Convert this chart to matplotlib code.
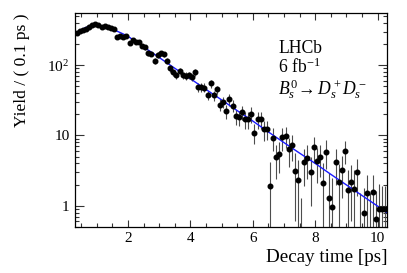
import numpy as np
import matplotlib.pyplot as plt
from matplotlib.ticker import MultipleLocator, LogLocator, FixedLocator, FixedFormatter, NullFormatter

plt.rcParams['font.family'] = 'Liberation Serif'
plt.rcParams['mathtext.fontset'] = 'custom'
plt.rcParams['mathtext.rm'] = 'Liberation Serif'
plt.rcParams['mathtext.it'] = 'Liberation Serif:italic'

# bin centres, 0.1 ps wide bins
t = np.round(np.arange(0.35, 10.3, 0.1), 2)

# yield per bin
yld = [285, 305, 318, 322, 345, 368, 378, 370, 345, 357,
       350, 333, 322, 248, 258, 252, 258, 207, 231, 214,
       214, 186, 178, 147, 145, 115, 139, 147, 143, 115,
       90, 80, 72, 83, 72, 70, 72, 67, 79, 49,
       49, 48, 37.5, 55, 37, 45, 27.5, 30, 22, 32.6,
       26.5, 18.8, 18, 21.5, 17, 17, 20, 11, 17, 17,
       12.2, 12.4, 1.9, 9.3, 4.9, 5.5, 9.4, 9.9, 6.4, 7.2,
       3.1, 2.3, 0.3, 4.2, 4.8, 3.0, 6.8, 4.4, 5.0, 2.1,
       5.9, 1.29, 0.95, 4.2, 2.2, 3.2, 6.1, 1.69, 2.2, 1.73,
       3.0, 0.3, 0.80, 1.51, 0.4, 1.55, 0.65, 0.91, 0.91, 0.91]

err = [17, 18, 18, 18, 19, 19, 19, 19, 19, 19,
       19, 18, 18, 16, 16, 16, 16, 14, 15, 14,
       14, 13, 13, 12, 12, 11, 12, 12, 12, 11,
       10, 9, 9, 9, 9, 9, 9, 8, 9, 7,
       7, 7, 6, 7, 6, 6, 5.5, 5.5, 5, 6,
       5, 4.5, 4.5, 5, 4.5, 4.5, 5, 3.4, 4.5, 4.5,
       3.8, 3.8, 2.3, 3.3, 2.5, 2.6, 3.3, 3.3, 2.8, 2.9,
       2.5, 2.2, 1.0, 2.3, 2.4, 2.0, 2.8, 2.3, 2.4, 1.9,
       2.6, 1.6, 1.5, 2.2, 1.7, 1.9, 2.2, 1.5, 1.6, 1.5,
       1.6, 1.2, 1.0, 1.2, 1.1, 1.2, 1.0, 1.1, 1.0, 1.0]

# fit projection
fit_t = [0.3, 0.4, 0.5, 0.6, 0.7, 0.8, 0.9, 1.0, 1.2, 1.4, 1.6, 1.8, 2.0,
         2.5, 3.0, 3.5, 4.0, 4.5, 5.0, 5.5, 6.0, 6.5, 7.0, 7.5, 8.0, 8.5,
         9.0, 9.5, 10.0, 10.3]
fit_y = [283, 300, 318, 335, 350, 362, 368, 368, 357, 335, 310, 283, 256,
         181, 128, 90, 64, 45, 32, 22.5, 16, 11.2, 7.9, 5.6, 4.0, 2.8,
         1.98, 1.40, 0.99, 0.80]

fig = plt.figure(figsize=(4.07, 2.73), dpi=100)
ax = fig.add_axes([0.1843, 0.1685, 0.7666, 0.7839])
ax.set_yscale('log')

ax.errorbar(t, yld, yerr=err, fmt='o', color='black', ms=3.3,
            ecolor='0.3', elinewidth=0.8, capsize=0)
ax.plot(fit_t, fit_y, color='#1a1aff', lw=1.0)

ax.set_xlim(0.3, 10.3)
ax.set_ylim(0.5, 550)

ax.xaxis.set_major_locator(MultipleLocator(2))
ax.xaxis.set_minor_locator(MultipleLocator(0.5))
ax.yaxis.set_major_locator(FixedLocator([1, 10, 100]))
ax.yaxis.set_major_formatter(FixedFormatter(['1', '10', r'$10^{2}$']))
ax.yaxis.set_minor_locator(LogLocator(base=10, subs=np.arange(2, 10)))
ax.yaxis.set_minor_formatter(NullFormatter())

ax.tick_params(axis='both', which='both', direction='in', top=True, right=True,
               width=0.8, color='0.2', labelsize=11)
ax.tick_params(axis='x', which='major', length=5, pad=3.5)
ax.tick_params(axis='x', which='minor', length=3)
ax.tick_params(axis='y', which='major', length=6.5, pad=4)
ax.tick_params(axis='y', which='minor', length=3)
for s in ax.spines.values():
    s.set_linewidth(0.9)

fig.text(0.951, 0.0385, 'Decay time [ps]', ha='right', va='baseline', fontsize=13.7)
fig.text(0.055, 0.952, 'Yield / ( 0.1 ps )', rotation=90, ha='center', va='top', fontsize=12.6)

ax.text(0.651, 0.814, 'LHCb', transform=ax.transAxes, fontsize=12.7, va='baseline')
ax.text(0.651, 0.721, r'6 fb$^{-1}$', transform=ax.transAxes, fontsize=12.7, va='baseline')
ax.text(0.651, 0.62, r'$B^0_s\!\rightarrow D^+_s D^-_s$', transform=ax.transAxes,
        fontsize=12.7, va='baseline')

fig.savefig('out.png', dpi=100)
